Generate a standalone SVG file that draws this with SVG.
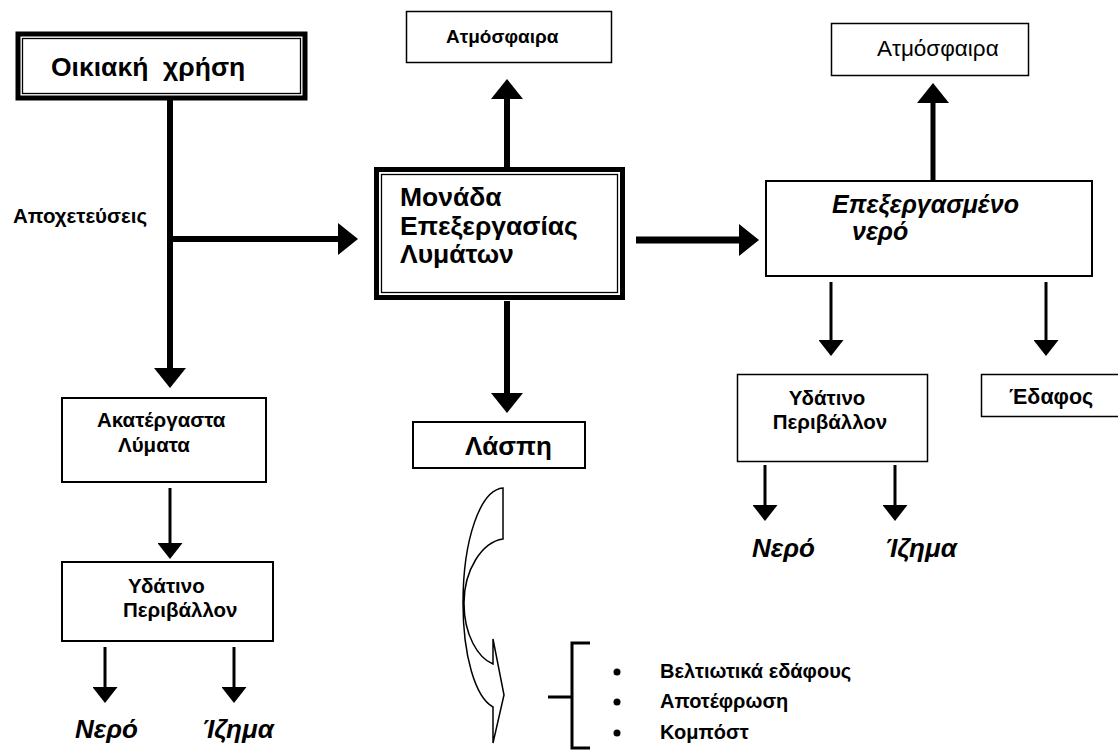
<svg xmlns="http://www.w3.org/2000/svg" width="1118" height="751" viewBox="0 0 1118 751">
  <style>
    text { font-family: "Liberation Sans", Arial, sans-serif; fill: #000; }
    .b { font-weight: bold; }
    .bi { font-weight: bold; font-style: italic; }
    .sm { font-size: 20.5px; }
    .lg { font-size: 26.5px; }
    .box { fill: #fff; stroke: #000; stroke-width: 2; }
    .thick { fill: none; stroke: #000; stroke-width: 5; }
    .thin { fill: none; stroke: #000; stroke-width: 1.3; }
    .big { stroke: #000; stroke-width: 6; fill: none; marker-end: url(#headBig); }
    .small { stroke: #000; stroke-width: 3; fill: none; marker-end: url(#headSmall); }
  </style>
  <defs>
    <marker id="headBig" markerUnits="userSpaceOnUse" viewBox="0 -16 20 32" markerWidth="20" markerHeight="32" refX="0" refY="0" orient="auto">
      <path d="M0,-16 L20,0 L0,16 Z" fill="#000"/>
    </marker>
    <marker id="headSmall" markerUnits="userSpaceOnUse" viewBox="0 -12.5 16 25" markerWidth="16" markerHeight="25" refX="0" refY="0" orient="auto">
      <path d="M0,-12.5 L16,0 L0,12.5 Z" fill="#000"/>
    </marker>
  </defs>
  <rect width="1118" height="751" fill="#fff"/>

  <!-- connectors -->
  <g id="connectors">
    <line class="big" x1="170" y1="100" x2="170" y2="368"/>
    <line class="big" x1="170" y1="239" x2="338" y2="239"/>
    <line class="big" x1="507" y1="167" x2="507" y2="99"/>
    <line class="big" x1="507" y1="301" x2="507" y2="393"/>
    <line class="big" x1="636" y1="240" x2="739" y2="240" style="stroke-width:7"/>
    <line class="big" x1="933" y1="180" x2="933" y2="103" style="stroke-width:5"/>
    <line class="small" x1="831" y1="282" x2="831" y2="340"/>
    <line class="small" x1="1046" y1="282" x2="1046" y2="340"/>
    <line class="small" x1="765" y1="465" x2="765" y2="505"/>
    <line class="small" x1="895" y1="465" x2="895" y2="505"/>
    <line class="small" x1="170" y1="488" x2="170" y2="543"/>
    <line class="small" x1="105" y1="647" x2="105" y2="687"/>
    <line class="small" x1="234" y1="647" x2="234" y2="687"/>
    <!-- curved arrow from the sludge box to its uses -->
    <path d="M503,488 L503,539 C482,542 464,570 464,603 C464,635 478,658 493,664 L493,639 L504,695 L493,743 L493,707 C475,697 463,655 463,603 C463,540 480,490 503,488 Z" fill="none" stroke="#000" stroke-width="1.5" stroke-linejoin="miter"/>
    <!-- bracket -->
    <path d="M590,643 L572,643 L572,748 L590,748 M548,697 L572,697" fill="none" stroke="#000" stroke-width="3"/>
  </g>

  <g id="household">
    <rect class="thick" x="18" y="34" width="287" height="64"/>
    <rect class="thin" x="22.5" y="38.5" width="278" height="55"/>
    <text class="b lg" x="51" y="76" style="white-space:pre">Οικιακή  χρήση</text>
  </g>

  <g id="sewers-label">
    <text class="b sm" x="13" y="223">Αποχετεύσεις</text>
  </g>

  <g id="treatment-unit">
    <rect class="thick" x="376.5" y="169.5" width="246" height="128"/>
    <rect class="thin" x="381.5" y="174.5" width="236" height="118"/>
    <text class="b lg" x="400" y="206">Μονάδα</text>
    <text class="b lg" x="400" y="235">Επεξεργασίας</text>
    <text class="b lg" x="400" y="263">Λυμάτων</text>
  </g>

  <g id="atmosphere-1">
    <rect class="box" x="406.5" y="11.5" width="205" height="51" style="stroke-width:1.5"/>
    <text class="b" x="446" y="43" style="font-size:19px">Ατμόσφαιρα</text>
  </g>

  <g id="atmosphere-2">
    <rect class="box" x="831.5" y="23.5" width="197" height="52" style="stroke-width:1.5"/>
    <text x="877" y="56" style="font-size:22.5px">Ατμόσφαιρα</text>
  </g>

  <g id="treated-water">
    <rect class="box" x="766" y="181" width="326" height="95"/>
    <text class="bi" x="832" y="213" style="font-size:25px">Επεξεργασμένο</text>
    <text class="bi" x="852" y="240" style="font-size:25px">νερό</text>
  </g>

  <g id="aquatic-env-right">
    <rect class="box" x="737.5" y="374.5" width="190" height="87" style="stroke-width:1.5"/>
    <text class="b sm" x="827" y="405" text-anchor="middle">Υδάτινο</text>
    <text class="b sm" x="830" y="429" text-anchor="middle">Περιβάλλον</text>
  </g>

  <g id="soil">
    <rect class="box" x="981.5" y="374.5" width="140" height="42" style="stroke-width:1.5"/>
    <text class="b" x="1009" y="404" style="font-size:21.5px">Έδαφος</text>
  </g>

  <g id="water-right">
    <text class="bi" x="752" y="557" style="font-size:26px">Νερό</text>
  </g>
  <g id="sediment-right">
    <text class="bi" x="885" y="557" style="font-size:26px">Ίζημα</text>
  </g>

  <g id="sludge">
    <rect class="box" x="413" y="422" width="172" height="46"/>
    <text class="b" x="465" y="455" style="font-size:26px">Λάσπη</text>
  </g>

  <g id="raw-sewage">
    <rect class="box" x="62" y="398" width="204" height="84"/>
    <text class="b sm" x="97" y="427">Ακατέργαστα</text>
    <text class="b sm" x="118" y="452">Λύματα</text>
  </g>

  <g id="aquatic-env-left">
    <rect class="box" x="62" y="562" width="211" height="79"/>
    <text class="b sm" x="128" y="593">Υδάτινο</text>
    <text class="b sm" x="123" y="617">Περιβάλλον</text>
  </g>

  <g id="water-left">
    <text class="bi" x="75" y="738" style="font-size:26px">Νερό</text>
  </g>
  <g id="sediment-left">
    <text class="bi" x="202" y="738" style="font-size:26px">Ίζημα</text>
  </g>

  <g id="sludge-uses">
    <circle cx="617" cy="672" r="3.5"/>
    <circle cx="617" cy="702" r="3.5"/>
    <circle cx="617" cy="733" r="3.5"/>
    <text class="b" x="660" y="678" style="font-size:20px">Βελτιωτικά εδάφους</text>
    <text class="b" x="660" y="708" style="font-size:20px">Αποτέφρωση</text>
    <text class="b" x="660" y="739" style="font-size:20px">Κομπόστ</text>
  </g>
</svg>
